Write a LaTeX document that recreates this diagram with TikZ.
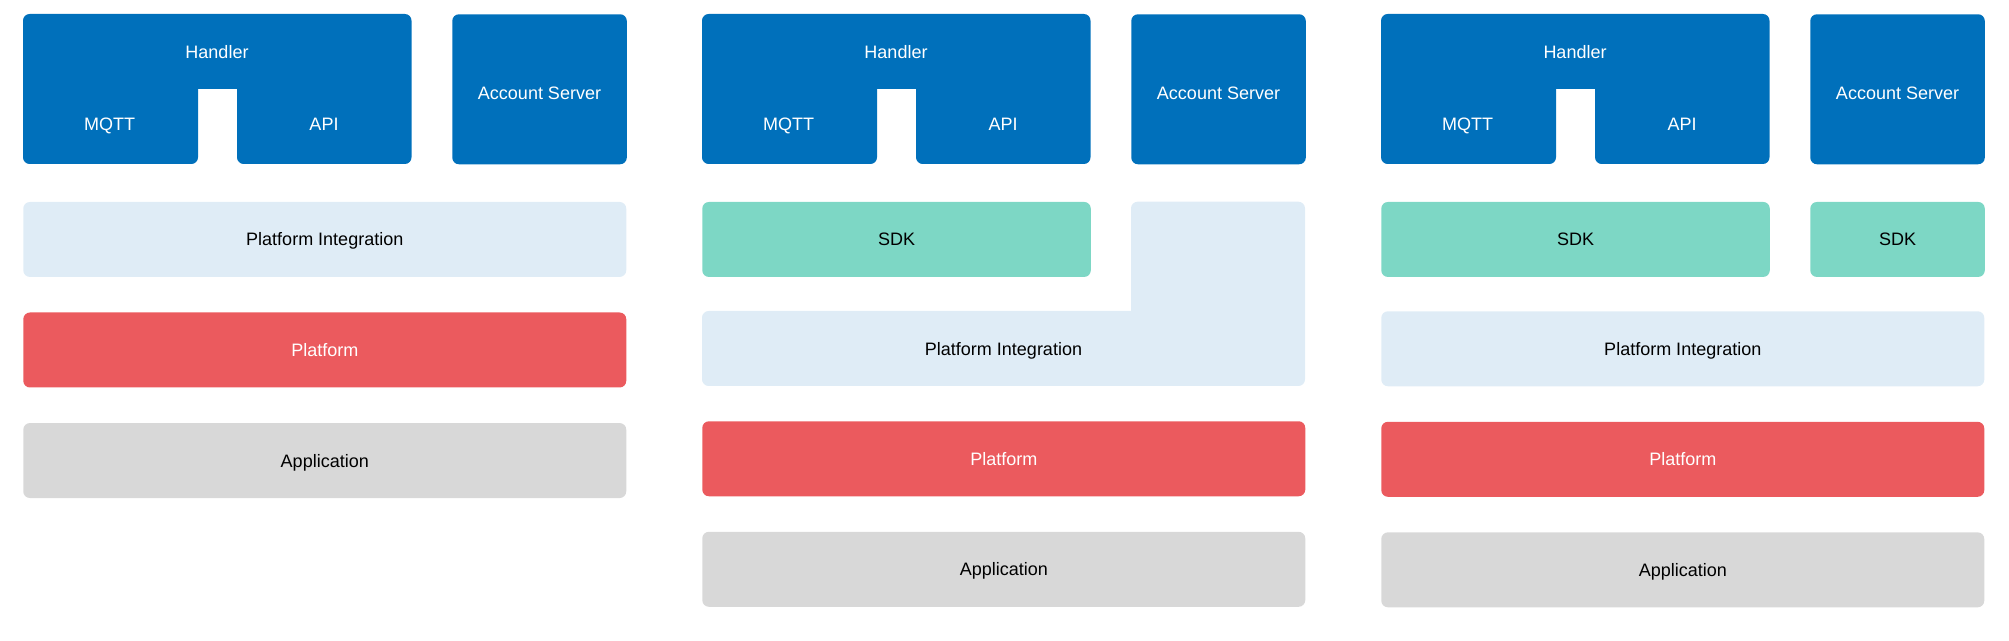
\documentclass[tikz,border=0pt]{standalone}
\usepackage{fontspec}
\setmainfont{Liberation Sans}
\usepackage{tikz}
\usetikzlibrary{positioning}
\definecolor{handlerblue}{RGB}{0, 112, 187}
\definecolor{integrationblue}{RGB}{223, 236, 246}
\definecolor{sdkgreen}{RGB}{125, 215, 197}
\definecolor{platformred}{RGB}{235, 90, 94}
\definecolor{appgray}{RGB}{216, 216, 216}
\tikzstyle{boxtext} = [inner sep=0pt, text depth=0pt, font=\fontsize{13.5}{16}\selectfont]
\tikzstyle{block} = [rectangle, rounded corners=5pt, inner sep=0pt, anchor=north west, text depth=0pt,
                     minimum height=56.25pt, text centered, font=\fontsize{13.5}{16}\selectfont]
\tikzstyle{wide} = [block, minimum width=452.25pt]
\tikzstyle{server} = [block, fill=handlerblue, minimum width=130.9pt, minimum height=112.5pt]

\begin{document}
\begin{tikzpicture}[x=0.75pt, y=-0.75pt, node distance=26.25pt]
    \useasboundingbox (0,0) rectangle (2009,641);

    % First stack
    \fill[handlerblue, rounded corners=5pt] (198,130) -- (198,164) -- (23,164) -- (23,14) -- (411.5,14)
        -- (411.5,164) -- (237,164) -- (237,130) [sharp corners] -- (237,89) -- (198,89) -- cycle;
    \node[boxtext, text=white] (handlerA) at (217,51.5) {Handler};
    \node[boxtext, text=white] (mqttA) at (109.5,124.5) {MQTT};
    \node[boxtext, text=white] (apiA) at (324,124.5) {API};
    \node[server] (serverA) at (452,14) {};
    \node[boxtext, text=white] (serverlabelA) at (539.5,93.5) {Account Server};
    \node[wide, fill=integrationblue] (integrationA) at (23,201.7) {Platform Integration};
    \node[wide, fill=platformred, text=white, below=of integrationA] (platformA) {Platform};
    \node[wide, fill=appgray, below=of platformA] (applicationA) {Application};

    % Second stack
    \fill[handlerblue, rounded corners=5pt] (877,130) -- (877,164) -- (702,164) -- (702,14) -- (1090.5,14)
        -- (1090.5,164) -- (916,164) -- (916,130) [sharp corners] -- (916,89) -- (877,89) -- cycle;
    \node[boxtext, text=white] (handlerB) at (896,51.5) {Handler};
    \node[boxtext, text=white] (mqttB) at (788.5,124.5) {MQTT};
    \node[boxtext, text=white] (apiB) at (1003,124.5) {API};
    \node[server] (serverB) at (1131,14) {};
    \node[boxtext, text=white] (serverlabelB) at (1218.5,93.5) {Account Server};
    \node[block, fill=sdkgreen, minimum width=291.4pt] (sdkB) at (702,201.7) {SDK};
    \fill[integrationblue, rounded corners=5pt] (900,311) -- (702,311) -- (702,386) -- (1305,386)
        -- (1305,201.7) -- (1131,201.7) -- (1131,250) [sharp corners] -- (1131,311) -- cycle;
    \node[boxtext] (integrationB) at (1003.5,348.5) {Platform Integration};
    \node[wide, fill=platformred, text=white] (platformB) at (702,421) {Platform};
    \node[wide, fill=appgray, below=of platformB] (applicationB) {Application};

    % Third stack
    \fill[handlerblue, rounded corners=5pt] (1556,130) -- (1556,164) -- (1381,164) -- (1381,14) -- (1769.5,14)
        -- (1769.5,164) -- (1595,164) -- (1595,130) [sharp corners] -- (1595,89) -- (1556,89) -- cycle;
    \node[boxtext, text=white] (handlerC) at (1575,51.5) {Handler};
    \node[boxtext, text=white] (mqttC) at (1467.5,124.5) {MQTT};
    \node[boxtext, text=white] (apiC) at (1682,124.5) {API};
    \node[server] (serverC) at (1810,14) {};
    \node[boxtext, text=white] (serverlabelC) at (1897.5,93.5) {Account Server};
    \node[block, fill=sdkgreen, minimum width=291.4pt] (sdkC) at (1381,201.7) {SDK};
    \node[block, fill=sdkgreen, minimum width=130.9pt] (sdkD) at (1810,201.7) {SDK};
    \node[wide, fill=integrationblue] (integrationC) at (1381,311) {Platform Integration};
    \node[wide, fill=platformred, text=white, below=of integrationC] (platformC) {Platform};
    \node[wide, fill=appgray, below=of platformC] (applicationC) {Application};
\end{tikzpicture}
\end{document}
